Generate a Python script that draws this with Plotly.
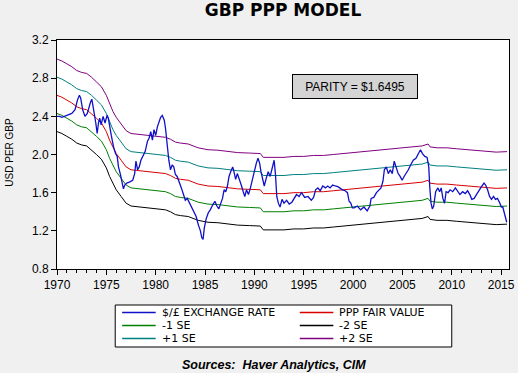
import plotly.graph_objects as go

# ---------------- data ----------------
X_FX = [1970.00, 1970.25, 1970.50, 1970.75, 1971.00, 1971.25, 1971.50, 1971.83, 1972.07, 1972.27,
        1972.40, 1972.60, 1972.83, 1973.07, 1973.23, 1973.40, 1973.53, 1973.67, 1973.77, 1973.93,
        1974.07, 1974.20, 1974.33, 1974.47, 1974.67, 1974.87, 1975.07, 1975.20, 1975.33, 1975.50,
        1975.73, 1975.93, 1976.10, 1976.23, 1976.43, 1976.60, 1976.73, 1976.87, 1977.07, 1977.33,
        1977.67, 1977.87, 1978.00, 1978.17, 1978.33, 1978.50, 1978.73, 1978.93, 1979.17, 1979.33,
        1979.50, 1979.67, 1979.83, 1980.00, 1980.17, 1980.33, 1980.50, 1980.67, 1980.87, 1981.00,
        1981.17, 1981.33, 1981.50, 1981.67, 1981.83, 1982.00, 1982.17, 1982.40, 1982.60, 1982.85,
        1983.00, 1983.20, 1983.43, 1983.67, 1983.87, 1984.10, 1984.33, 1984.53, 1984.67, 1984.80,
        1984.93, 1985.10, 1985.33, 1985.53, 1985.77, 1986.00, 1986.20, 1986.40, 1986.60, 1986.77,
        1986.93, 1987.10, 1987.27, 1987.43, 1987.60, 1987.80, 1987.93, 1988.10, 1988.27, 1988.47,
        1988.67, 1988.87, 1989.03, 1989.20, 1989.40, 1989.60, 1989.80, 1990.00, 1990.20, 1990.37,
        1990.53, 1990.67, 1990.83, 1991.00, 1991.20, 1991.40, 1991.60, 1991.80, 1992.00, 1992.13,
        1992.27, 1992.43, 1992.60, 1992.80, 1993.00, 1993.27, 1993.53, 1993.80, 1994.00, 1994.27,
        1994.53, 1994.77, 1995.10, 1995.43, 1995.77, 1996.00, 1996.20, 1996.43, 1996.67, 1996.93,
        1997.20, 1997.43, 1997.67, 1997.93, 1998.20, 1998.50, 1998.93, 1999.20, 1999.43, 1999.60,
        1999.77, 1999.93, 2000.10, 2000.43, 2000.77, 2001.10, 2001.43, 2001.70, 2001.83, 2002.10,
        2002.37, 2002.60, 2002.83, 2003.03, 2003.17, 2003.37, 2003.57, 2003.77, 2003.97, 2004.17,
        2004.37, 2004.57, 2004.77, 2004.97, 2005.17, 2005.37, 2005.60, 2005.83, 2006.10, 2006.37,
        2006.60, 2006.83, 2007.03, 2007.27, 2007.50, 2007.67, 2007.77, 2007.90, 2008.03, 2008.17,
        2008.37, 2008.60, 2008.77, 2008.93, 2009.10, 2009.27, 2009.43, 2009.63, 2009.83, 2010.10,
        2010.37, 2010.60, 2010.83, 2011.10, 2011.37, 2011.60, 2011.83, 2012.03, 2012.27, 2012.50,
        2012.77, 2013.03, 2013.27, 2013.43, 2013.63, 2013.83, 2014.03, 2014.23, 2014.43, 2014.63,
        2014.83, 2015.03, 2015.17, 2015.30, 2015.43, 2015.57]
FX = [2.40, 2.40, 2.39, 2.40, 2.41, 2.42, 2.43, 2.47, 2.57, 2.62,
      2.59, 2.47, 2.40, 2.43, 2.50, 2.55, 2.58, 2.47, 2.43, 2.33,
      2.22, 2.33, 2.38, 2.31, 2.40, 2.33, 2.41, 2.38, 2.29, 2.20,
      2.08, 2.01, 1.98, 1.87, 1.79, 1.68, 1.64, 1.68, 1.70, 1.71,
      1.73, 1.80, 1.93, 1.84, 1.87, 1.94, 1.98, 2.03, 2.14, 2.17,
      2.24, 2.15, 2.26, 2.20, 2.29, 2.34, 2.39, 2.41, 2.36, 2.27,
      2.08, 1.94, 1.84, 1.89, 1.87, 1.79, 1.77, 1.71, 1.65, 1.57,
      1.52, 1.54, 1.49, 1.44, 1.40, 1.35, 1.26, 1.20, 1.13, 1.11,
      1.23, 1.32, 1.39, 1.42, 1.47, 1.51, 1.46, 1.43, 1.49, 1.54,
      1.63, 1.61, 1.67, 1.77, 1.82, 1.87, 1.82, 1.74, 1.80, 1.75,
      1.68, 1.61, 1.56, 1.63, 1.58, 1.65, 1.74, 1.82, 1.91, 1.96,
      1.91, 1.82, 1.74, 1.67, 1.75, 1.82, 1.77, 1.86, 1.94, 1.80,
      1.56, 1.49, 1.45, 1.53, 1.49, 1.52, 1.48, 1.50, 1.54, 1.58,
      1.56, 1.60, 1.55, 1.56, 1.52, 1.55, 1.63, 1.65, 1.62, 1.67,
      1.65, 1.67, 1.65, 1.68, 1.67, 1.66, 1.63, 1.62, 1.60, 1.51,
      1.49, 1.44, 1.44, 1.46, 1.42, 1.45, 1.41, 1.46, 1.54, 1.55,
      1.60, 1.63, 1.65, 1.72, 1.84, 1.87, 1.80, 1.84, 1.80, 1.93,
      1.86, 1.80, 1.77, 1.73, 1.77, 1.80, 1.84, 1.89, 1.94, 1.96,
      2.00, 2.05, 2.01, 1.98, 1.97, 1.87, 1.66, 1.49, 1.43, 1.46,
      1.61, 1.65, 1.61, 1.65, 1.54, 1.49, 1.61, 1.60, 1.63, 1.61,
      1.65, 1.61, 1.58, 1.61, 1.59, 1.62, 1.58, 1.53, 1.54, 1.58,
      1.63, 1.665, 1.70, 1.68, 1.63, 1.56, 1.53, 1.56, 1.53, 1.54,
      1.50, 1.45, 1.45, 1.39, 1.32, 1.29]

X_BAND = [1970.0, 1970.5, 1971.0, 1971.5, 1972.0, 1972.5, 1973.0, 1973.5, 1974.0, 1974.5,
          1975.0, 1975.33, 1975.67, 1976.0, 1976.5, 1977.0, 1977.5, 1978.5, 1979.5, 1980.5,
          1981.0, 1981.5, 1982.0, 1982.5, 1983.3, 1984.3, 1985.3, 1986.3, 1987.3, 1988.3,
          1989.5, 1990.6, 1990.9, 1992.0, 1993.0, 1994.0, 1995.0, 1996.0, 1997.0, 1998.0,
          1999.0, 2000.0, 2001.0, 2002.0, 2003.0, 2004.0, 2005.0, 2006.0, 2007.0, 2007.6,
          2007.8, 2008.5, 2009.5, 2010.5, 2011.5, 2012.5, 2013.5, 2014.5, 2015.6]
PPP = [2.62, 2.60, 2.57, 2.54, 2.50, 2.48, 2.47, 2.43, 2.38, 2.33,
       2.24, 2.15, 2.07, 2.01, 1.94, 1.87, 1.84, 1.83, 1.82, 1.81,
       1.80, 1.78, 1.75, 1.74, 1.73, 1.69, 1.67, 1.665, 1.65, 1.64,
       1.635, 1.63, 1.59, 1.59, 1.59, 1.60, 1.60, 1.61, 1.61, 1.62,
       1.63, 1.645, 1.65, 1.66, 1.67, 1.68, 1.69, 1.70, 1.71, 1.73,
       1.70, 1.69, 1.69, 1.68, 1.67, 1.66, 1.655, 1.645, 1.65]
MINUS1 = [2.43, 2.41, 2.38, 2.35, 2.31, 2.29, 2.28, 2.24, 2.19, 2.14,
          2.05, 1.96, 1.88, 1.82, 1.75, 1.68, 1.65, 1.64, 1.63, 1.62,
          1.61, 1.59, 1.56, 1.55, 1.54, 1.50, 1.48, 1.475, 1.46, 1.45,
          1.445, 1.44, 1.40, 1.40, 1.40, 1.41, 1.41, 1.42, 1.42, 1.43,
          1.44, 1.455, 1.46, 1.47, 1.48, 1.49, 1.50, 1.51, 1.52, 1.54,
          1.51, 1.50, 1.50, 1.49, 1.48, 1.47, 1.465, 1.455, 1.46]
MINUS2 = [2.24, 2.22, 2.19, 2.16, 2.12, 2.10, 2.09, 2.05, 2.00, 1.95,
          1.86, 1.77, 1.69, 1.63, 1.56, 1.49, 1.46, 1.45, 1.44, 1.43,
          1.42, 1.40, 1.37, 1.36, 1.35, 1.31, 1.29, 1.285, 1.27, 1.26,
          1.255, 1.25, 1.21, 1.21, 1.21, 1.22, 1.22, 1.23, 1.23, 1.24,
          1.25, 1.265, 1.27, 1.28, 1.29, 1.30, 1.31, 1.32, 1.33, 1.35,
          1.32, 1.31, 1.31, 1.30, 1.29, 1.28, 1.275, 1.265, 1.27]
PLUS1 = [2.81, 2.79, 2.76, 2.73, 2.69, 2.67, 2.66, 2.62, 2.57, 2.52,
         2.43, 2.34, 2.26, 2.20, 2.13, 2.06, 2.03, 2.02, 2.01, 2.00,
         1.99, 1.97, 1.94, 1.93, 1.92, 1.88, 1.86, 1.855, 1.84, 1.83,
         1.825, 1.82, 1.78, 1.78, 1.78, 1.79, 1.79, 1.80, 1.80, 1.81,
         1.82, 1.835, 1.84, 1.85, 1.86, 1.87, 1.88, 1.89, 1.90, 1.92,
         1.89, 1.88, 1.88, 1.87, 1.86, 1.85, 1.845, 1.835, 1.84]
PLUS2 = [3.00, 2.98, 2.95, 2.92, 2.88, 2.86, 2.85, 2.81, 2.76, 2.71,
         2.62, 2.53, 2.45, 2.39, 2.32, 2.25, 2.22, 2.21, 2.20, 2.19,
         2.18, 2.16, 2.13, 2.12, 2.11, 2.07, 2.05, 2.045, 2.03, 2.02,
         2.015, 2.01, 1.97, 1.97, 1.97, 1.98, 1.98, 1.99, 1.99, 2.00,
         2.01, 2.025, 2.03, 2.04, 2.05, 2.06, 2.07, 2.08, 2.09, 2.11,
         2.08, 2.07, 2.07, 2.06, 2.05, 2.04, 2.035, 2.025, 2.03]

SERIES_NAMES = ["$/£ EXCHANGE RATE", "PPP FAIR VALUE", "-1 SE", "-2 SE", "+1 SE", "+2 SE"]
X_TICKS = [1970, 1975, 1980, 1985, 1990, 1995, 2000, 2005, 2010, 2015]
Y_TICKS = [0.8, 1.2, 1.6, 2.0, 2.4, 2.8, 3.2]
TITLE = "GBP PPP MODEL"
Y_LABEL = "USD PER GBP"
PARITY_TEXT = "PARITY = $1.6495"
SOURCE_TEXT = "Sources:\u00a0 Haver Analytics, CIM"

# ---------------- styling ----------------
COLORS = ["#1010C8", "#D80000", "#008000", "#000000", "#008080", "#800080"]
WIDTHS = [1.3, 1, 1, 1, 1, 1]
FONT = "Liberation Sans, Arial, sans-serif"
LEG_FONT = "DejaVu Sans, Verdana, sans-serif"

W_PX, H_PX = 518, 373
M_L, M_R, M_T, M_B = 57, 3, 40, 104
PW = W_PX - M_L - M_R
PH = H_PX - M_T - M_B


def px(xp):
    return (xp - M_L) / PW


def py(yp):
    return (M_T + PH - yp) / PH


fig = go.Figure()
xs = [X_FX, X_BAND, X_BAND, X_BAND, X_BAND, X_BAND]
ys = [FX, PPP, MINUS1, MINUS2, PLUS1, PLUS2]
# draw bands first, exchange rate on top
order = [5, 4, 1, 2, 3, 0]
for i in order:
    fig.add_trace(go.Scatter(x=xs[i], y=ys[i], mode="lines", name=SERIES_NAMES[i],
                             line=dict(color=COLORS[i], width=WIDTHS[i]),
                             showlegend=False, hoverinfo="skip"))

shapes = []
annotations = []

# custom legend box (two columns, three rows)
shapes.append(dict(type="rect", xref="paper", yref="paper",
                   x0=px(116), x1=px(457), y0=py(347), y1=py(305),
                   fillcolor="white", line=dict(color="black", width=1)))
col_line = [(123, 157), (303, 337)]
col_text = [161, 341]
row_y = [312.5, 325.5, 338.5]
for i, name in enumerate(SERIES_NAMES):
    r, c = divmod(i, 2)
    shapes.append(dict(type="line", xref="paper", yref="paper",
                       x0=px(col_line[c][0]), x1=px(col_line[c][1]),
                       y0=py(row_y[r]), y1=py(row_y[r]),
                       line=dict(color=COLORS[i], width=1.3)))
    annotations.append(dict(text=name, xref="paper", yref="paper",
                            x=px(col_text[c]), y=py(row_y[r]),
                            xanchor="left", yanchor="middle", showarrow=False,
                            font=dict(family=LEG_FONT, size=11, color="black")))

# parity box
annotations.append(dict(text=PARITY_TEXT, xref="paper", yref="paper",
                        x=px(358.5), y=py(86), xanchor="center", yanchor="middle",
                        showarrow=False, bgcolor="#D4D4D4", bordercolor="black",
                        borderwidth=1, borderpad=3, width=118, height=17,
                        font=dict(family=FONT, size=12, color="black")))

# y axis label
annotations.append(dict(text=Y_LABEL, xref="paper", yref="paper",
                        x=px(8), y=py(152), xanchor="center", yanchor="middle",
                        textangle=-90, showarrow=False,
                        font=dict(family=FONT, size=10, color="black")))

# sources
annotations.append(dict(text="<b><i>" + SOURCE_TEXT + "</i></b>", xref="paper", yref="paper",
                        x=px(277), y=py(365), xanchor="center", yanchor="middle",
                        showarrow=False, font=dict(family=FONT, size=12.5, color="black")))

fig.update_layout(
    width=W_PX, height=H_PX,
    margin=dict(l=M_L, r=M_R, t=M_T, b=M_B, pad=0),
    paper_bgcolor="#F0F0F0", plot_bgcolor="white",
    title=dict(text="<b>" + TITLE + "</b>", x=0.5, xref="paper",
               y=1 - 10.5 / H_PX, yref="container", yanchor="middle", xanchor="center",
               font=dict(family="DejaVu Sans, sans-serif", size=17, color="black")),
    shapes=shapes, annotations=annotations,
    showlegend=False,
    hovermode=False,
    xaxis=dict(range=[1970, 1970 + PW / 10.0], tickvals=X_TICKS,
               ticktext=[str(t) for t in X_TICKS],
               ticks="outside", ticklen=5, tickcolor="black", tickwidth=1,
               ticklabeloverflow="allow",
               minor=dict(dtick=1, tick0=1970, ticks="outside", ticklen=3,
                          tickcolor="black", tickwidth=1, showgrid=False),
               showgrid=False, zeroline=False,
               showline=True, linecolor="black", linewidth=1, mirror=True,
               tickfont=dict(family=FONT, size=12, color="black")),
    yaxis=dict(range=[0.8, 3.2], tickvals=Y_TICKS,
               ticktext=["%.1f" % v for v in Y_TICKS],
               ticks="outside", ticklen=5, tickcolor="black", tickwidth=1,
               showgrid=False, zeroline=False,
               showline=True, linecolor="black", linewidth=1, mirror=True,
               tickfont=dict(family=FONT, size=12, color="black")),
)

fig.write_html("out.html",
               config={"displayModeBar": False, "staticPlot": True},
               post_script="document.body.style.margin='0';document.body.style.overflow='hidden';")
